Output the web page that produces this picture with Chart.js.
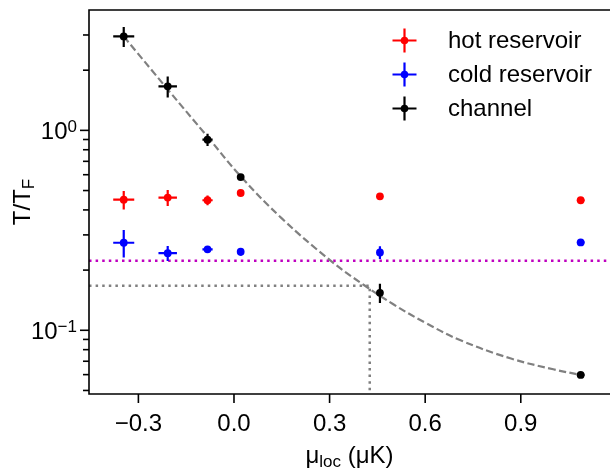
<!DOCTYPE html>
<html>
<head>
<meta charset="utf-8">
<script src="https://cdn.jsdelivr.net/npm/chart.js@4"></script>
<style>
  html, body { margin: 0; padding: 0; background: #fff; }
  #wrap { width: 614px; height: 468px; }
</style>
</head>
<body>
<div id="wrap"><canvas id="tempChart"></canvas></div>
<script>
// local chemical potential (uK) and its uncertainty, shared by all three probes
var mu = [-0.346, -0.208, -0.083, 0.021, 0.458, 1.088];
var muErr = [0.033, 0.029, 0.016, 0.006, 0.008, 0.012];

var hotT = [0.450, 0.461, 0.447, 0.486, 0.468, 0.447];
var hotErr = [0.048, 0.042, 0.025, 0.008, 0.008, 0.006];

var coldT = [0.274, 0.243, 0.254, 0.247, 0.245, 0.275];
var coldErr = [0.043, 0.021, 0.008, 0.011, 0.018, 0.005];

var chanT = [2.95, 1.66, 0.898, 0.584, 0.154, 0.0598];
var chanErr = [0.34, 0.20, 0.064, 0.010, 0.017, 0.001];

// dashed guide curve through the channel points
var curveMu = [-0.346, -0.208, -0.084, 0.021, 0.150, 0.306, 0.410, 0.500, 0.600, 0.711, 0.867, 1.002, 1.088];
var curveT = [2.951, 1.603, 0.933, 0.589, 0.363, 0.221, 0.1675, 0.1349, 0.1091, 0.0891, 0.0724, 0.0638, 0.0598];

var magentaLevel = 0.223;
var crossT = 0.167;
var crossMu = 0.426;

var xTicks = [-0.3, 0.0, 0.3, 0.6, 0.9];
var yMajor = [0.1, 1];
var yMinor = [0.05, 0.06, 0.07, 0.08, 0.09, 0.2, 0.3, 0.4, 0.5, 0.6, 0.7, 0.8, 0.9, 2, 3];

var xMin = -0.455, xMax = 1.180;
var yMin = 0.048, yMax = 4.0;

var FONT = '"Liberation Sans", Arial, sans-serif';
var BIG = '24px ' + FONT;
var SMALL = '17px ' + FONT;

function pts(xs, ys) {
    return xs.map(function (x, i) { return { x: x, y: ys[i] }; });
}

var errorBars = {
    id: 'errorBars',
    beforeDatasetDraw: function (chart, args) {
        var ds = chart.data.datasets[args.index];
        if (!ds.yErr) return;
        var xs = chart.scales.x, ys = chart.scales.y, ctx = chart.ctx;
        ctx.save();
        ctx.strokeStyle = ds.backgroundColor;
        ctx.lineWidth = 2.2;
        ds.data.forEach(function (p, i) {
            var px = xs.getPixelForValue(p.x), py = ys.getPixelForValue(p.y);
            ctx.beginPath();
            ctx.moveTo(xs.getPixelForValue(p.x - ds.xErr[i]), py);
            ctx.lineTo(xs.getPixelForValue(p.x + ds.xErr[i]), py);
            ctx.moveTo(px, ys.getPixelForValue(p.y - ds.yErr[i]));
            ctx.lineTo(px, ys.getPixelForValue(p.y + ds.yErr[i]));
            ctx.stroke();
        });
        ctx.restore();
    }
};

// axes frame, ticks, tick labels, titles and legend
var frame = {
    id: 'frame',
    afterDraw: function (chart) {
        var ctx = chart.ctx, a = chart.chartArea;
        var xs = chart.scales.x, ys = chart.scales.y;
        ctx.save();
        ctx.strokeStyle = '#000';
        ctx.fillStyle = '#000';
        ctx.lineWidth = 1.6;

        // spines (the right one falls just outside the canvas)
        ctx.beginPath();
        ctx.moveTo(a.right, a.top);
        ctx.lineTo(a.left, a.top);
        ctx.lineTo(a.left, a.bottom);
        ctx.lineTo(a.right, a.bottom);
        ctx.stroke();

        // x ticks
        ctx.font = BIG;
        ctx.textAlign = 'center';
        ctx.textBaseline = 'alphabetic';
        xTicks.forEach(function (v) {
            var px = xs.getPixelForValue(v);
            ctx.beginPath();
            ctx.moveTo(px, a.bottom);
            ctx.lineTo(px, a.bottom + 9);
            ctx.stroke();
            var s = v.toFixed(1).replace('-', '\u2212');
            ctx.fillText(s, px, 431);
        });

        // y ticks
        yMinor.forEach(function (v) {
            var py = ys.getPixelForValue(v);
            ctx.beginPath();
            ctx.moveTo(a.left - 6, py);
            ctx.lineTo(a.left, py);
            ctx.stroke();
        });
        yMajor.forEach(function (v) {
            var py = ys.getPixelForValue(v);
            ctx.beginPath();
            ctx.moveTo(a.left - 9, py);
            ctx.lineTo(a.left, py);
            ctx.stroke();
            var ex = Math.round(Math.log10(v));
            var sup = ex < 0 ? '\u2212' + (-ex) : String(ex);
            ctx.font = SMALL;
            var supW = ctx.measureText(sup).width;
            ctx.font = BIG;
            var baseW = ctx.measureText('10').width;
            var right = a.left - 9 - 3;
            ctx.textAlign = 'left';
            ctx.fillText('10', right - supW - baseW, py + 8.5);
            ctx.font = SMALL;
            ctx.fillText(sup, right - supW, py + 2);
        });

        // x title: mu_loc (uK)
        var cx = (a.left + a.right) / 2;
        ctx.font = BIG;
        var w1 = ctx.measureText('\u03bc').width;
        var w3 = ctx.measureText(' (\u03bcK)').width;
        ctx.font = SMALL;
        var w2 = ctx.measureText('loc').width;
        var x0 = cx - (w1 + w2 + w3) / 2;
        var by = 463;
        ctx.textAlign = 'left';
        ctx.font = BIG;
        ctx.fillText('\u03bc', x0, by);
        ctx.font = SMALL;
        ctx.fillText('loc', x0 + w1, by + 4);
        ctx.font = BIG;
        ctx.fillText(' (\u03bcK)', x0 + w1 + w2, by);

        // y title: T/T_F
        ctx.save();
        ctx.translate(30, (a.top + a.bottom) / 2);
        ctx.rotate(-Math.PI / 2);
        ctx.font = BIG;
        var t1 = ctx.measureText('T/T').width;
        ctx.font = SMALL;
        var t2 = ctx.measureText('F').width;
        var tx = -(t1 + t2) / 2;
        ctx.font = BIG;
        ctx.fillText('T/T', tx, 0);
        ctx.font = SMALL;
        ctx.fillText('F', tx + t1, 4);
        ctx.restore();

        // legend
        var items = [
            { label: 'hot reservoir', color: '#ff0000' },
            { label: 'cold reservoir', color: '#0000ff' },
            { label: 'channel', color: '#000000' }
        ];
        ctx.font = BIG;
        ctx.textAlign = 'left';
        ctx.textBaseline = 'middle';
        items.forEach(function (it, i) {
            var ly = 40.5 + i * 34;
            var lx = 404.5;
            ctx.strokeStyle = it.color;
            ctx.fillStyle = it.color;
            ctx.lineWidth = 2.2;
            ctx.beginPath();
            ctx.moveTo(lx - 12, ly);
            ctx.lineTo(lx + 12, ly);
            ctx.moveTo(lx, ly - 12);
            ctx.lineTo(lx, ly + 12);
            ctx.stroke();
            ctx.beginPath();
            ctx.arc(lx, ly, 3.8, 0, Math.PI * 2);
            ctx.fill();
            ctx.fillStyle = '#000';
            ctx.fillText(it.label, 448, ly + 1);
        });
        ctx.restore();
    }
};

var ctx = document.getElementById('tempChart');
new Chart(ctx, {
    type: 'scatter',
    data: {
        datasets: [
            {
                label: 'hot reservoir',
                data: pts(mu, hotT),
                xErr: muErr, yErr: hotErr,
                backgroundColor: '#ff0000', borderColor: '#ff0000',
                pointRadius: 3.9, pointBorderWidth: 0, order: 0
            },
            {
                label: 'cold reservoir',
                data: pts(mu, coldT),
                xErr: muErr, yErr: coldErr,
                backgroundColor: '#0000ff', borderColor: '#0000ff',
                pointRadius: 3.9, pointBorderWidth: 0, order: 0
            },
            {
                label: 'channel',
                data: pts(mu, chanT),
                xErr: muErr, yErr: chanErr,
                backgroundColor: '#000000', borderColor: '#000000',
                pointRadius: 3.9, pointBorderWidth: 0, order: 0
            },
            {
                label: 'curve',
                data: pts(curveMu, curveT),
                showLine: true, pointRadius: 0,
                borderColor: '#808080', borderWidth: 2.2,
                borderDash: [7.4, 3.4], tension: 0.4,
                order: 1
            },
            {
                label: 'level',
                data: [{ x: xMin, y: magentaLevel }, { x: xMax, y: magentaLevel }],
                showLine: true, pointRadius: 0,
                borderColor: '#bf00bf', borderWidth: 2.5, borderDash: [2.5, 4.1],
                order: 2
            },
            {
                label: 'crossing',
                data: [{ x: xMin, y: crossT }, { x: crossMu, y: crossT }, { x: crossMu, y: yMin }],
                showLine: true, pointRadius: 0,
                borderColor: '#808080', borderWidth: 2.5, borderDash: [2.5, 4.1],
                order: 2
            }
        ]
    },
    options: {
        responsive: true,
        maintainAspectRatio: false,
        animation: false,
        layout: { padding: { left: 89, top: 10, right: 0, bottom: 74 } },
        plugins: {
            legend: { display: false },
            tooltip: { enabled: false }
        },
        scales: {
            x: { type: 'linear', min: xMin, max: xMax, display: false },
            y: { type: 'logarithmic', min: yMin, max: yMax, display: false }
        }
    },
    plugins: [errorBars, frame]
});
</script>
</body>
</html>
